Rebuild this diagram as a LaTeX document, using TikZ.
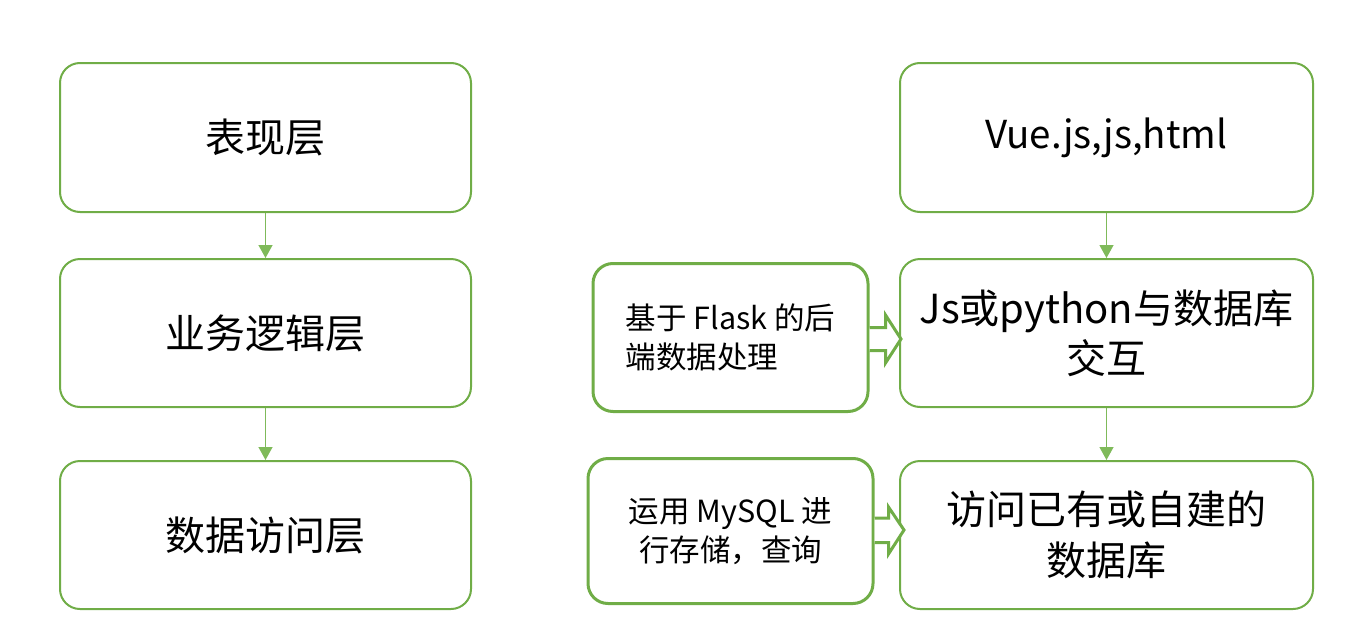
\documentclass[tikz,border=0pt]{standalone}
\usepackage{fontspec}
\setmainfont{Noto Sans CJK SC}
\usetikzlibrary{arrows.meta,calc}
\definecolor{gbox}{HTML}{70AD47}
\definecolor{gline}{HTML}{7FBA5A}
\tikzset{
  bigbox/.style={draw=gbox, line width=2pt, rounded corners=20pt, fill=white, align=center,
    font=\fontsize{40}{51}\selectfont, inner sep=0pt},
  smallbox/.style={draw=gbox, line width=3pt, rounded corners=20pt, fill=white,
    font=\fontsize{30.5}{39}\selectfont, inner sep=0pt},
  thinarrow/.style={draw=gline, line width=1.3pt, -{Triangle[width=14pt,length=13pt]}, fill=gline},
  blockarrow/.style={draw=gbox, line width=3pt, fill=white, line join=miter},
}
\begin{document}
\begin{tikzpicture}[x=1pt,y=-1pt]
\useasboundingbox (0,0) rectangle (1355,640);
% left column
\node[bigbox, minimum width=411pt, minimum height=149pt] (l1) at (265.5,137.5) {表现层};
\node[bigbox, minimum width=411pt, minimum height=148pt] (l2) at (265.5,333) {业务逻辑层};
\node[bigbox, minimum width=411pt, minimum height=148pt] (l3) at (265.5,535) {数据访问层};
% right column
\node[bigbox, minimum width=413pt, minimum height=149pt] (r1) at (1106.5,137.5) {\fontsize{38.5}{51}\selectfont Vue.js,js,html};
\node[bigbox, minimum width=413pt, minimum height=148pt] (r2) at (1106.5,333) {\raisebox{-3pt}{\shortstack{Js或python与数据库\\[4pt]交互}}};
\node[bigbox, minimum width=413pt, minimum height=148pt] (r3) at (1106.5,535) {访问已有或自建的\\数据库};
% small boxes
\node[smallbox, minimum width=275pt, minimum height=148pt, align=left] (s1) at (730.5,337.5) {基于 Flask 的后\\端数据处理};
\node[smallbox, minimum width=285pt, minimum height=145pt, align=center] (s2) at (730.5,531) {运用 MySQL 进\\行存储，查询};
% thin arrows
\draw[thinarrow] (l1.south) -- (l2.north);
\draw[thinarrow] (l2.south) -- (l3.north);
\draw[thinarrow] (r1.south) -- (r2.north);
\draw[thinarrow] (r2.south) -- (r3.north);
% block arrows
\draw[blockarrow] ($(s1.east)+(0,-10)$) -- ++(16,0) -- ++(0,-12.5) -- ($(r2.west)+(2,6)$)
  -- ($(s1.east)+(16,25.5)$) -- ++(0,-12.5) -- ($(s1.east)+(0,13)$);
\coordinate (t2) at ($(r3.west)+(5,-5)$);
\draw[blockarrow] ($(s2.east)+(0,-13)$) -- ++(14,0) -- ++(0,-11) -- (t2)
  -- ($(s2.east)+(14,23)$) -- ++(0,-11.5) -- ($(s2.east)+(0,11.5)$);
\end{tikzpicture}
\end{document}
